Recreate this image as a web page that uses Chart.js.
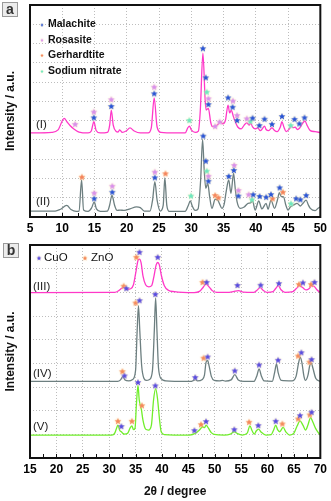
<!DOCTYPE html>
<html>
<head>
<meta charset="utf-8">
<script src="https://cdn.jsdelivr.net/npm/chart.js@4.4.0/dist/chart.umd.min.js"></script>
<style>
  body { margin: 0; background: #fff; }
  #wrap { position: relative; width: 331px; height: 501px; }
  canvas { position: absolute; left: 0; }
  #chartA { top: 0; }
  #chartB { top: 240px; }
  .tag {
    position: absolute; width: 14px; height: 13px;
    border: 1px solid #9a9a9a; background: #ececec;
    font: bold 14px "Liberation Sans", Arial, sans-serif;
    line-height: 12px; text-align: center; color: #333;
  }
</style>
</head>
<body>
<div id="wrap">
  <canvas id="chartA" width="331" height="240"></canvas>
  <canvas id="chartB" width="331" height="261"></canvas>
  <div class="tag" style="left:2px;top:2px">a</div>
  <div class="tag" style="left:3px;top:243px">b</div>
</div>
<script>
// ---- panel a : precursors (I) and (II), 2theta 5-50 ----
const twoThetaI = [5.0, 8.4, 9.35, 10.3, 10.75, 11.2, 11.8, 12.6, 14.0, 14.5, 14.9, 15.25, 15.9, 17.0, 17.35, 17.6, 17.9, 18.35, 18.65, 18.9, 19.3, 19.9, 20.5, 21.15, 22.1, 23.3, 23.8, 24.25, 24.7, 25.3, 27.5, 29.05, 29.45, 29.7, 30.0, 30.6, 31.1, 31.4, 31.8, 32.15, 32.3, 32.65, 33.0, 33.25, 33.7, 34.2, 34.5, 34.9, 35.3, 35.7, 35.95, 36.2, 36.5, 36.8, 37.2, 37.75, 38.2, 38.6, 39.0, 39.2, 39.5, 39.9, 40.3, 40.7, 41.0, 41.35, 41.6, 42.0, 42.5, 42.9, 43.3, 43.8, 44.05, 44.35, 44.7, 45.2, 45.5, 45.8, 46.1, 46.45, 46.8, 47.2, 47.6, 48.0, 48.45, 49.2, 50.0];
const countsI = [43.6, 43.9, 45.2, 51.2, 49.3, 47.5, 45.7, 44.1, 43.6, 44.6, 49.5, 44.9, 43.6, 43.9, 47.7, 55.5, 47.7, 44.4, 44.1, 45.2, 43.9, 44.6, 46.2, 44.6, 43.6, 43.6, 46.2, 61.8, 46.7, 43.9, 43.6, 43.6, 46.2, 47.2, 45.2, 43.9, 44.6, 55.5, 85.0, 60.7, 55.5, 56.4, 49.3, 46.9, 47.2, 48.3, 49.5, 48.3, 50.3, 58.1, 54.0, 55.5, 52.4, 49.5, 46.7, 45.7, 47.7, 48.8, 47.7, 48.8, 46.7, 45.7, 46.2, 44.8, 45.7, 47.2, 45.4, 44.8, 46.3, 44.9, 44.3, 46.7, 49.5, 46.7, 44.3, 45.7, 47.2, 46.4, 46.6, 45.4, 46.2, 48.3, 49.8, 47.2, 44.8, 44.3, 43.8];

const twoThetaII = [5.0, 8.9, 9.65, 10.7, 11.35, 12.15, 12.6, 13.0, 13.3, 14.0, 14.55, 14.95, 15.3, 15.9, 17.0, 17.35, 17.7, 18.1, 18.5, 18.95, 19.6, 20.5, 21.5, 22.1, 22.7, 23.6, 24.0, 24.35, 24.7, 25.2, 25.65, 25.9, 26.2, 26.6, 29.05, 29.5, 29.85, 30.15, 30.6, 31.05, 31.45, 31.75, 32.0, 32.25, 32.55, 32.85, 33.2, 33.7, 34.1, 34.4, 34.75, 35.1, 35.4, 35.8, 36.15, 36.55, 36.8, 37.1, 37.6, 38.2, 38.8, 39.15, 39.5, 39.9, 40.45, 40.95, 41.6, 41.9, 42.35, 42.9, 43.35, 43.65, 43.95, 44.3, 44.65, 45.0, 45.35, 45.85, 46.4, 46.9, 47.35, 47.8, 48.15, 48.45, 49.2, 49.7, 50.0];
const countsII = [3.1, 3.1, 3.9, 6.0, 3.9, 2.9, 3.1, 19.2, 3.6, 2.9, 4.7, 7.8, 4.2, 2.9, 3.1, 6.2, 11.4, 6.2, 3.4, 3.6, 3.4, 4.2, 5.3, 4.9, 3.1, 3.1, 8.8, 18.3, 8.8, 3.1, 6.2, 20.4, 6.2, 2.9, 2.9, 5.7, 8.3, 5.7, 3.4, 4.2, 19.2, 40.3, 24.4, 14.9, 17.5, 10.4, 4.5, 9.2, 8.8, 6.7, 4.5, 6.7, 13.0, 19.2, 12.3, 22.7, 15.1, 7.9, 4.5, 5.2, 7.1, 7.3, 8.3, 3.6, 8.3, 4.2, 7.1, 4.0, 8.8, 4.5, 8.8, 12.6, 10.6, 10.5, 6.2, 3.6, 5.2, 6.2, 7.1, 5.7, 7.3, 8.8, 6.2, 4.5, 3.3, 4.7, 5.2];

// phase markers, panel a (curve I first, then curve II)
const malachiteX = [14.9, 17.6, 24.25, 31.8, 32.25, 32.65, 35.7, 36.4, 37.1, 39.5, 40.55, 41.35, 42.5, 44.05, 46.0, 46.75, 47.55, 14.95, 17.75, 24.35, 31.85, 32.25, 32.65, 35.8, 36.6, 37.3, 39.6, 40.6, 41.6, 42.35, 43.7, 46.25, 46.9, 47.8];
const malachiteY = [51.7, 57.6, 64.2, 87.6, 72.5, 58.6, 62.1, 57.2, 50.3, 51.5, 47.7, 51.0, 48.3, 52.4, 50.9, 48.6, 51.7, 9.7, 13.1, 20.6, 42.2, 29.2, 18.8, 21.3, 24.4, 11.1, 11.8, 10.9, 10.5, 11.9, 15.4, 9.7, 9.2, 11.4];
const rosasiteX = [12.0, 14.9, 17.6, 24.25, 32.65, 33.7, 34.4, 36.45, 37.1, 38.6, 14.95, 17.75, 24.35, 32.65, 36.65, 37.3, 38.9];
const rosasiteY = [48.3, 54.7, 61.1, 67.6, 61.6, 47.2, 49.5, 60.4, 52.9, 51.2, 12.6, 16.2, 23.5, 21.4, 27.0, 14.0, 11.8];
const gerhardtiteX = [13.05, 26.0, 33.7, 34.2, 42.6, 44.2];
const gerhardtiteY = [20.9, 22.7, 11.4, 10.2, 9.7, 13.1];
const nitrateX = [29.7, 32.4, 39.15, 45.4, 29.95, 32.4, 39.4, 45.45];
const nitrateY = [50.3, 65.0, 49.8, 47.7, 11.1, 24.0, 9.2, 7.1];

// ---- panel b : calcined (III), (IV), (V), 2theta 15-70 ----
const twoThetaIII = [15, 31.05, 31.8, 32.35, 32.9, 33.5, 34.05, 34.6, 35.1, 35.5, 35.75, 36.05, 36.4, 36.9, 37.5, 38.05, 38.5, 38.9, 39.2, 39.5, 39.9, 40.45, 41.2, 42.35, 46.1, 47.1, 47.65, 48.35, 49.0, 49.55, 50.5, 52.35, 53.5, 54.5, 55.4, 57.45, 58.0, 58.6, 59.15, 59.9, 61.05, 61.5, 62.05, 62.55, 63.3, 64.8, 65.4, 66.15, 66.7, 67.35, 67.85, 68.4, 68.8, 69.35, 70];
const countsIII = [69.9, 70.0, 70.7, 71.7, 72.3, 71.3, 71.5, 73.2, 79.1, 83.7, 84.0, 82.4, 77.0, 73.2, 72.3, 72.8, 77.0, 81.6, 82.6, 81.6, 77.0, 72.8, 70.9, 70.3, 69.9, 70.4, 71.7, 73.5, 72.1, 70.7, 70.0, 70.0, 70.3, 70.7, 70.1, 70.0, 70.9, 72.0, 70.9, 70.0, 70.3, 71.5, 72.8, 71.1, 70.0, 70.3, 71.5, 72.8, 71.9, 71.0, 71.5, 72.8, 72.6, 71.1, 69.9];

const twoThetaIV = [15, 31.6, 32.15, 32.6, 33.0, 33.7, 34.45, 35.0, 35.3, 35.55, 35.8, 36.15, 36.6, 37.0, 37.65, 38.2, 38.55, 38.8, 39.05, 39.35, 39.9, 40.7, 42.4, 45.6, 46.0, 46.35, 46.7, 47.65, 48.05, 48.35, 48.65, 48.95, 49.35, 49.9, 50.85, 51.5, 52.0, 53.1, 53.8, 54.45, 55.55, 57.45, 58.0, 58.4, 58.8, 59.35, 60.9, 61.35, 61.7, 62.0, 62.6, 64.65, 65.4, 65.9, 66.2, 66.5, 66.9, 67.2, 67.65, 68.0, 68.3, 68.6, 69.15, 70];
const countsIV = [32.4, 32.4, 33.0, 34.5, 33.0, 32.6, 33.2, 37.0, 53.8, 64.4, 53.8, 39.1, 33.6, 32.8, 33.2, 37.0, 53.8, 67.6, 53.8, 37.9, 33.4, 32.6, 32.4, 32.4, 32.8, 33.1, 32.6, 33.2, 35.0, 40.4, 41.2, 38.7, 34.5, 32.8, 32.6, 32.8, 32.5, 33.0, 35.2, 33.0, 32.4, 32.4, 34.9, 37.7, 34.9, 32.6, 32.4, 36.2, 39.8, 36.2, 32.8, 32.6, 34.5, 40.4, 42.6, 40.4, 34.5, 32.8, 34.9, 39.1, 40.1, 37.9, 33.6, 32.4];

const twoThetaV = [15, 30.5, 31.05, 31.4, 31.65, 32.0, 32.3, 32.65, 32.9, 33.5, 33.95, 34.3, 34.6, 34.9, 35.15, 35.45, 35.7, 36.1, 36.4, 36.9, 37.45, 38.0, 38.4, 38.8, 39.15, 39.55, 39.85, 40.5, 42.35, 45.2, 46.45, 47.1, 47.7, 48.05, 48.35, 48.8, 49.35, 49.9, 51.8, 52.95, 53.7, 54.3, 55.2, 56.15, 56.65, 57.1, 57.5, 57.85, 58.3, 58.8, 59.7, 60.7, 61.15, 61.55, 61.9, 62.3, 62.95, 63.5, 64.2, 65.0, 65.6, 66.15, 66.7, 67.2, 67.65, 68.15, 68.6, 69.1, 69.55, 70];
const countsV = [9.7, 9.7, 10.5, 12.6, 13.9, 11.6, 11.1, 10.3, 10.1, 10.5, 12.6, 13.6, 12.0, 12.6, 22.3, 30.7, 24.4, 20.5, 16.0, 12.2, 11.8, 13.9, 24.4, 29.3, 25.2, 16.0, 11.1, 9.9, 9.7, 9.7, 10.6, 11.8, 13.2, 12.8, 13.9, 12.6, 10.7, 10.0, 9.7, 10.1, 11.1, 10.3, 9.7, 10.5, 13.6, 11.4, 10.1, 11.4, 12.2, 10.9, 9.7, 9.9, 11.8, 13.9, 12.0, 11.1, 12.9, 10.9, 9.7, 10.5, 13.5, 15.7, 13.9, 11.8, 13.9, 17.1, 15.1, 12.5, 10.9, 9.7];

const cuoX = [33.25, 35.75, 39.2, 48.45, 54.3, 58.7, 62.15, 66.7, 68.9, 32.9, 35.75, 38.75, 46.3, 48.65, 53.8, 58.4, 62.0, 66.4, 68.35, 32.3, 35.45, 38.75, 46.15, 48.35, 53.7, 58.25, 61.55, 66.15, 68.35];
const cuoY = [71.8, 87.1, 85.0, 74.4, 73.1, 73.2, 73.9, 74.2, 74.4, 34.9, 66.7, 69.3, 34.2, 42.9, 37.0, 39.5, 41.5, 44.7, 41.8, 13.5, 32.1, 30.7, 11.8, 15.6, 12.2, 13.9, 15.7, 18.1, 19.5];
const znoX = [32.75, 35.15, 47.7, 65.95, 68.25, 32.5, 35.0, 47.9, 65.8, 67.95, 31.65, 34.3, 36.2, 47.4, 56.5, 62.8, 65.8, 68.0];
const znoY = [72.8, 85.0, 74.4, 73.5, 73.5, 36.7, 65.7, 42.4, 43.3, 40.7, 15.7, 15.7, 22.3, 14.3, 15.3, 14.6, 16.7, 18.4];

const FONT = '"Liberation Sans", Arial, sans-serif';

// small filled star used as point style
function starImage(color, r) {
  const s = Math.ceil(r * 2 + 4);
  const c = document.createElement('canvas');
  c.width = s; c.height = s;
  const g = c.getContext('2d');
  g.translate(s / 2, s / 2 + 0.5);
  g.beginPath();
  for (let i = 0; i < 10; i++) {
    const rad = i % 2 ? r * 0.45 : r;
    const a = -Math.PI / 2 + i * Math.PI / 5;
    g.lineTo(rad * Math.cos(a), rad * Math.sin(a));
  }
  g.closePath();
  g.shadowColor = 'rgba(255,235,170,0.9)';
  g.shadowBlur = 2;
  g.fillStyle = color;
  g.fill();
  return c;
}

function pts(xs, ys) {
  return xs.map((x, i) => ({x: x, y: ys[i]}));
}

function curve(xs, ys, color) {
  return {
    type: 'line', data: pts(xs, ys), borderColor: color, borderWidth: 1.3,
    pointRadius: 0, cubicInterpolationMode: 'monotone', order: 2
  };
}

function marks(xs, ys, color) {
  return {
    type: 'scatter', data: pts(xs, ys), pointStyle: starImage(color, 3.6),
    pointRadius: 4, borderColor: color, backgroundColor: color, order: 0
  };
}

// frame, inward ticks, in-plot legend and curve labels
const decor = {
  id: 'decor',
  afterDraw(chart, args, opts) {
    const ctx = chart.ctx;
    const a = chart.chartArea;
    const xs = chart.scales.x, ys = chart.scales.y;
    ctx.save();
    ctx.strokeStyle = '#111';
    ctx.lineWidth = 1;
    for (let v = xs.min; v <= xs.max + 0.01; v += 2.5) {
      const px = Math.round(xs.getPixelForValue(v)) + 0.5;
      ctx.beginPath();
      ctx.moveTo(px, a.bottom);
      ctx.lineTo(px, a.bottom - 4);
      ctx.stroke();
    }
    ctx.lineWidth = 2;
    ctx.strokeRect(a.left, a.top, a.right - a.left, a.bottom - a.top);

    ctx.fillStyle = '#222';
    ctx.textBaseline = 'middle';
    ctx.textAlign = 'left';
    ctx.font = '11.5px ' + FONT;
    opts.labels.forEach(l => {
      ctx.fillText(l.text, xs.getPixelForValue(l.x), ys.getPixelForValue(l.y));
    });

    ctx.font = opts.legendFont;
    opts.legend.forEach(l => {
      const img = starImage(l.color, l.r);
      ctx.drawImage(img, a.left + l.dx - img.width / 2, a.top + l.dy - img.height / 2);
      ctx.fillStyle = '#111';
      ctx.fillText(l.text, a.left + l.tx, a.top + l.dy);
    });
    ctx.restore();
  }
};

function options(xMin, xMax, yMax, showTitle, xHeight, padTop, decorOpts) {
  return {
    responsive: false,
    animation: false,
    events: [],
    layout: {padding: {top: padTop, right: 9, left: 0, bottom: 0}},
    plugins: {legend: {display: false}, tooltip: {enabled: false}, decor: decorOpts},
    scales: {
      x: {
        type: 'linear', min: xMin, max: xMax,
        border: {display: false, dash: [1, 2]},
        grid: {
          drawTicks: false,
          color: c => (c.tick && c.tick.value % 5 === 0) ? '#bdbdbd' : 'rgba(0,0,0,0)'
        },
        ticks: {
          stepSize: 2.5, autoSkip: false, maxRotation: 0, padding: 4, color: '#000',
          font: {family: FONT, size: 12, weight: 'bold'},
          callback: v => (v % 5 === 0 ? v : '')
        },
        title: {
          display: showTitle, text: '2θ / degree', color: '#111',
          font: {family: FONT, size: 12, weight: 'bold'}, padding: {top: 0, bottom: 2}
        },
        afterFit: s => { s.height = xHeight; }
      },
      y: {
        min: 0, max: yMax,
        border: {display: false, dash: [1, 2]},
        grid: {drawTicks: false, color: '#bdbdbd'},
        ticks: {display: false, stepSize: 10},
        title: {
          display: true, text: 'Intensity / a.u.', color: '#111',
          font: {family: FONT, size: 12, weight: 'bold'}, padding: {top: 3, bottom: 0}
        },
        afterFit: s => { s.width = 30; }
      }
    }
  };
}

const MALACHITE = '#2a55d6';
const ROSASITE = '#d990ec';
const GERHARDTITE = '#f4845c';
const NITRATE = '#6fe8c0';
const CUO = '#5a4de0';
const ZNO = '#f48a5c';

new Chart(document.getElementById('chartA'), {
  type: 'line',
  data: {
    datasets: [
      marks(malachiteX, malachiteY, MALACHITE),
      marks(rosasiteX, rosasiteY, ROSASITE),
      marks(gerhardtiteX, gerhardtiteY, GERHARDTITE),
      marks(nitrateX, nitrateY, NITRATE),
      curve(twoThetaI, countsI, '#ff38c8'),
      curve(twoThetaII, countsII, '#6d7f80')
    ]
  },
  options: options(5, 50, 110, false, 23, 5, {
    labels: [{text: '(I)', x: 5.93, y: 47.7}, {text: '(II)', x: 5.93, y: 7.9}],
    legendFont: 'bold 10.5px ' + FONT,
    legend: [
      {text: 'Malachite', color: MALACHITE, r: 1.8, dx: 12, tx: 18, dy: 19.5},
      {text: 'Rosasite', color: ROSASITE, r: 1.8, dx: 12, tx: 18, dy: 34.8},
      {text: 'Gerhardtite', color: GERHARDTITE, r: 1.8, dx: 12, tx: 18, dy: 50},
      {text: 'Sodium nitrate', color: NITRATE, r: 1.8, dx: 12, tx: 18, dy: 66}
    ]
  }),
  plugins: [decor]
});

new Chart(document.getElementById('chartB'), {
  type: 'line',
  data: {
    datasets: [
      marks(cuoX, cuoY, CUO),
      marks(znoX, znoY, ZNO),
      curve(twoThetaIII, countsIII, '#ff38c8'),
      curve(twoThetaIV, countsIV, '#6d7f80'),
      curve(twoThetaV, countsV, '#70ee2a')
    ]
  },
  options: options(15, 70, 90, true, 43, 4, {
    labels: [
      {text: '(III)', x: 15.57, y: 72.3},
      {text: '(IV)', x: 15.57, y: 35.6},
      {text: '(V)', x: 15.57, y: 13.0}
    ],
    legendFont: '11.5px ' + FONT,
    legend: [
      {text: 'CuO', color: CUO, r: 2.6, dx: 9, tx: 14, dy: 12.7},
      {text: 'ZnO', color: ZNO, r: 2.6, dx: 55, tx: 61, dy: 12.7}
    ]
  }),
  plugins: [decor]
});
</script>
</body>
</html>
